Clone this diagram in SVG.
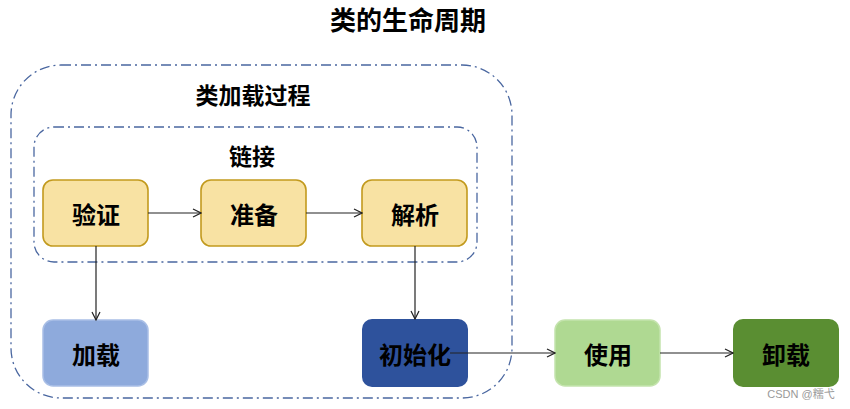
<svg xmlns="http://www.w3.org/2000/svg" width="850" height="409" viewBox="0 0 850 409">
<defs>
<marker id="ah" markerWidth="10" markerHeight="10" refX="9" refY="5" orient="auto" markerUnits="userSpaceOnUse">
<path d="M1,1 L9,5 L1,9" fill="none" stroke="#222" stroke-width="1.2"/>
</marker>
<style>
text{font-family:"Noto Sans CJK SC","Microsoft YaHei",sans-serif;font-weight:bold;fill:#000;text-anchor:middle;dominant-baseline:central}
.grp{fill:none;stroke:#4a67a0;stroke-width:1.3;stroke-dasharray:10 4 2 4}
.y{fill:#f8e2a3;stroke:#c29a1e;stroke-width:1.6}
.lbl{font-size:24px}
.conn{stroke:#222;stroke-width:1.2;fill:none;marker-end:url(#ah)}
</style>
</defs>
<rect width="850" height="409" fill="#fff"/>
<text x="408" y="18" style="font-size:26px">类的生命周期</text>
<g id="group-load">
<rect class="grp" x="11" y="65" width="501" height="333" rx="50"/>
<text x="253" y="94" style="font-size:23px">类加载过程</text>
</g>
<g id="group-link">
<rect class="grp" x="34" y="127" width="443" height="135" rx="20"/>
<text x="252" y="155" style="font-size:23px">链接</text>
</g>
<g id="n-verify"><rect class="y" x="43" y="180" width="105" height="66" rx="10"/><text class="lbl" x="96" y="213">验证</text></g>
<g id="n-prepare"><rect class="y" x="201" y="180" width="105" height="66" rx="10"/><text class="lbl" x="254" y="213">准备</text></g>
<g id="n-resolve"><rect class="y" x="362" y="180" width="105" height="66" rx="10"/><text class="lbl" x="415" y="213">解析</text></g>
<g id="n-load"><rect x="43" y="320" width="105" height="66" rx="10" fill="#8eaadc" stroke="#a9bfe6" stroke-width="1.5"/><text class="lbl" x="96" y="353">加载</text></g>
<g id="n-init"><rect x="362" y="319" width="106" height="68" rx="10" fill="#2e529c"/><text class="lbl" x="415" y="353">初始化</text></g>
<g id="n-use"><rect x="555" y="320" width="105" height="66" rx="10" fill="#afd992" stroke="#c4e3ad" stroke-width="1.5"/><text class="lbl" x="608" y="353">使用</text></g>
<g id="n-unload"><rect x="733" y="319" width="106" height="68" rx="10" fill="#5a8e32"/><text class="lbl" x="786" y="353">卸载</text></g>
<g id="connectors">
<line class="conn" x1="148" y1="213" x2="201" y2="213"/>
<line class="conn" x1="306" y1="213" x2="362" y2="213"/>
<line class="conn" x1="96" y1="246" x2="96" y2="320"/>
<line class="conn" x1="415" y1="246" x2="415" y2="319"/>
<line class="conn" x1="450" y1="353" x2="555" y2="353"/>
<line class="conn" x1="660" y1="353" x2="733" y2="353"/>
</g>
<text x="801" y="394" style="font-family:'Liberation Sans','Noto Sans CJK SC',sans-serif;font-weight:normal;font-size:11px;fill:#999">CSDN @糯弋</text>
</svg>
